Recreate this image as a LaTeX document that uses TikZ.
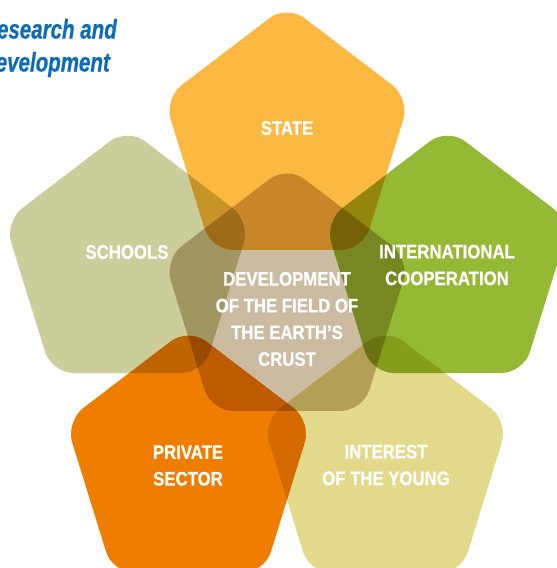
\documentclass[tikz,border=0pt]{standalone}
\usepackage{fontspec}
\newfontfamily\labelfont{Liberation Sans}[FakeStretch=0.86,FakeBold=0.6]
\newfontfamily\headfont{Liberation Sans}[FakeStretch=0.76,FakeBold=0.6]

\definecolor{cstate}{RGB}{251,185,66}
\definecolor{cschools}{RGB}{203,205,154}
\definecolor{cintl}{RGB}{150,185,53}
\definecolor{cprivate}{RGB}{239,125,0}
\definecolor{cyoung}{RGB}{227,217,139}
\definecolor{ccore}{RGB}{203,187,161}
\definecolor{chead}{RGB}{12,108,184}

\tikzset{
  petal/.style={rounded corners=22pt, blend mode=multiply},
  lbl/.style={text=white, inner sep=0pt, align=center,
    font=\labelfont\bfseries\fontsize{19.5}{26.7}\selectfont},
  head/.style={text=chead, inner sep=0pt, anchor=base east,
    font=\headfont\bfseries\itshape\fontsize{27}{32}\selectfont},
}

% rounded pentagon, point up, centred at (#1,#2) in pixel units
\newcommand\petal[3]{%
  \fill[petal,fill=#3] (#1,#2-135.5) -- (#1+122.8,#2-41.9) -- (#1+75.9,#2+109.6)
    -- (#1-75.9,#2+109.6) -- (#1-122.8,#2-41.9) -- cycle;}

\begin{document}
\begin{tikzpicture}[x=1pt,y=-1pt]
  \useasboundingbox (0,0) rectangle (557,568);
  \fill[white] (0,0) rectangle (557,568);
  \clip (0,0) rectangle (557,568);

  % petals
  \petal{287}{140.3}{cstate}
  \petal{127.5}{263.4}{cschools}
  \petal{447.5}{263.4}{cintl}
  \petal{188.5}{463.3}{cprivate}
  \petal{385.5}{463.3}{cyoung}
  \petal{287}{301.3}{ccore}

  % labels
  \node[lbl] (state)   at (287,128)     {STATE};
  \node[lbl] (schools) at (127,252)     {SCHOOLS};
  \node[lbl] (intl)    at (447,265)     {INTERNATIONAL\\COOPERATION};
  \node[lbl] (private) at (188,465.5)   {PRIVATE\\SECTOR};
  \node[lbl] (young)   at (386,465)     {INTEREST\\OF THE YOUNG};
  \node[lbl] (core)    at (287,319)     {DEVELOPMENT\\OF THE FIELD OF\\THE EARTH’S\\CRUST};

  % heading, partly outside the frame on the left
  \node[head] (headA) at (117,38.5) {Research and};
  \node[head] (headB) at (110,71.5) {Development};
\end{tikzpicture}
\end{document}
